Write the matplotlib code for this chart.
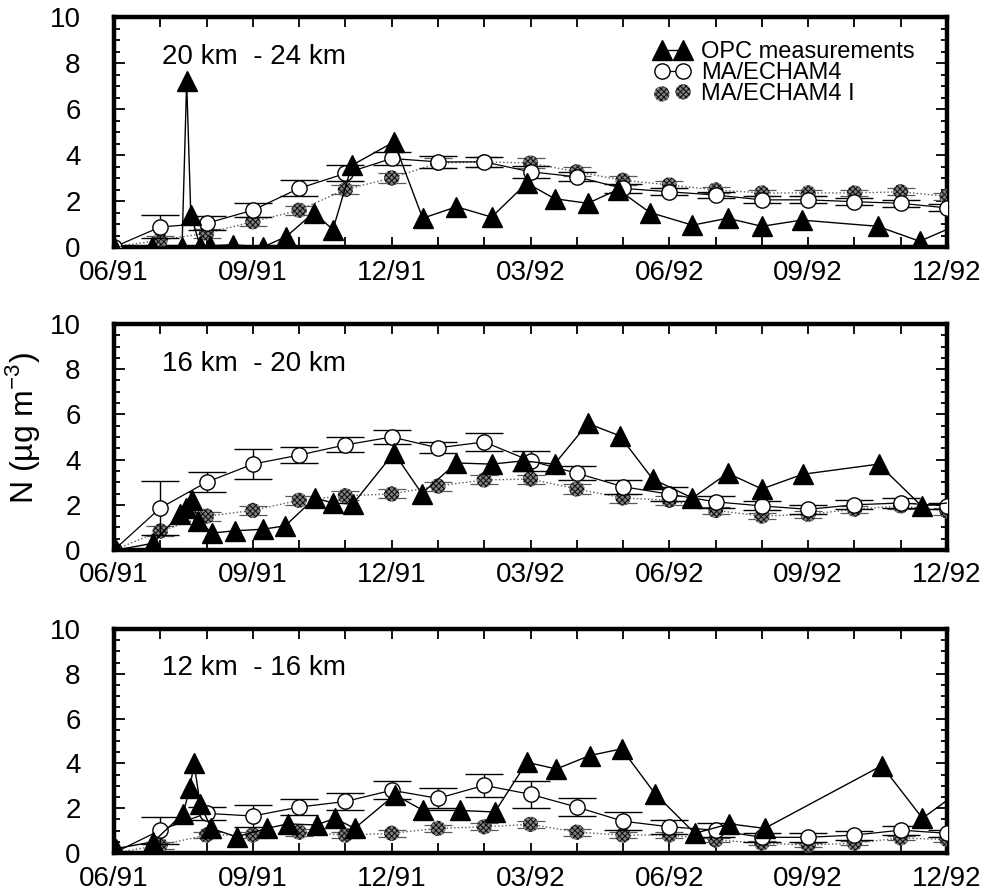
import numpy as np
import matplotlib
matplotlib.use('Agg')
import matplotlib.pyplot as plt
from matplotlib.ticker import MultipleLocator

plt.rcParams['font.family'] = ['Liberation Sans', 'DejaVu Sans']
plt.rcParams['hatch.linewidth'] = 0.7

# months since 06/91 (model output is monthly)
months = np.arange(19)
tick_labels = ['06/91', '09/91', '12/91', '03/92', '06/92', '09/92', '12/92']

# 20 km - 24 km
opc_top_x = [0.0, 0.82, 1.47, 1.57, 1.66, 1.86, 2.07, 2.57, 3.22, 3.72, 4.32, 4.73, 5.14, 6.05,
             6.67, 7.4, 8.16, 8.92, 9.52, 10.24, 10.89, 11.58, 12.5, 13.26, 14.0, 14.86, 16.5,
             17.41, 18.5]
opc_top_y = [0.0, 0.0, 0.0, 7.2, 1.4, 0.05, 0.05, 0.1, 0.0, 0.45, 1.5, 0.75, 3.55, 4.57,
             1.25, 1.75, 1.3, 2.78, 2.1, 1.9, 2.5, 1.5, 0.95, 1.25, 0.9, 1.17, 0.9,
             0.25, 1.2]
ma_top = [0.0, 0.87, 1.03, 1.6, 2.55, 3.2, 3.85, 3.7, 3.7, 3.27, 3.05, 2.55, 2.4, 2.26, 2.05,
          2.05, 1.97, 1.9, 1.7]
ma_top_err = [0.0, 0.5, 0.3, 0.3, 0.35, 0.35, 0.3, 0.25, 0.2, 0.25, 0.2, 0.2, 0.15, 0.15, 0.15,
              0.15, 0.15, 0.15, 0.15]
mai_top = [0.0, 0.3, 0.6, 1.1, 1.6, 2.5, 3.0, 3.65, 3.7, 3.65, 3.27, 2.9, 2.7, 2.48, 2.35,
           2.35, 2.35, 2.4, 2.2]
mai_top_err = [0.0, 0.2, 0.2, 0.2, 0.2, 0.2, 0.2, 0.2, 0.2, 0.2, 0.2, 0.2, 0.15, 0.15, 0.15,
               0.15, 0.15, 0.15, 0.15]

# 16 km - 20 km
opc_mid_x = [0.05, 0.85, 1.42, 1.55, 1.68, 1.82, 2.12, 2.61, 3.22, 3.7, 4.34, 4.73, 5.16, 6.05,
             6.65, 7.4, 8.16, 8.83, 9.52, 10.24, 10.93, 11.64, 12.5, 13.26, 14.0, 14.88, 16.52,
             17.45, 18.5]
opc_mid_y = [0.0, 0.3, 1.6, 1.85, 2.2, 1.3, 0.75, 0.85, 0.92, 1.07, 2.3, 2.08, 2.03, 4.3,
             2.5, 3.85, 3.8, 3.94, 3.8, 5.6, 5.05, 3.14, 2.3, 3.4, 2.7, 3.35, 3.8,
             1.95, 2.2]
ma_mid = [0.0, 1.86, 3.0, 3.8, 4.2, 4.65, 5.0, 4.52, 4.78, 3.94, 3.4, 2.8, 2.47, 2.13, 1.95,
          1.8, 2.0, 2.08, 1.95]
ma_mid_err = [0.0, 1.2, 0.45, 0.65, 0.37, 0.33, 0.33, 0.25, 0.4, 0.45, 0.3, 0.3, 0.3, 0.25, 0.2,
              0.2, 0.2, 0.2, 0.15]
mai_mid = [0.0, 0.84, 1.5, 1.75, 2.2, 2.4, 2.48, 2.83, 3.1, 3.14, 2.7, 2.3, 2.2, 1.75, 1.5,
           1.58, 1.8, 1.95, 1.72]
mai_mid_err = [0.0, 0.2, 0.2, 0.2, 0.2, 0.2, 0.2, 0.2, 0.2, 0.2, 0.2, 0.2, 0.2, 0.15, 0.15,
               0.15, 0.15, 0.15, 0.15]

# 12 km - 16 km
opc_bot_x = [0.05, 0.85, 1.49, 1.64, 1.73, 1.86, 2.1, 2.65, 3.3, 3.76, 4.38, 4.77, 5.2, 6.07,
             6.68, 7.47, 8.23, 8.92, 9.56, 10.28, 10.97, 11.69, 12.55, 13.3, 14.06, 16.59,
             17.47, 18.5]
opc_bot_y = [0.2, 0.5, 1.75, 2.9, 4.0, 2.2, 1.1, 0.72, 1.1, 1.3, 1.25, 1.55, 1.1, 2.6,
             1.9, 1.9, 1.83, 4.05, 3.75, 4.35, 4.65, 2.65, 0.88, 1.3, 1.1, 3.9,
             1.55, 3.1]
ma_bot = [0.0, 1.02, 1.77, 1.65, 2.05, 2.3, 2.8, 2.44, 3.02, 2.62, 2.05, 1.42, 1.17, 1.02, 0.7,
          0.7, 0.8, 1.02, 0.88]
ma_bot_err = [0.0, 0.6, 0.3, 0.5, 0.35, 0.4, 0.4, 0.45, 0.5, 0.6, 0.4, 0.4, 0.3, 0.3, 0.2,
              0.2, 0.2, 0.2, 0.15]
mai_bot = [0.0, 0.35, 0.8, 0.8, 0.93, 0.8, 0.88, 1.1, 1.17, 1.28, 0.93, 0.8, 0.8, 0.58, 0.44,
           0.35, 0.44, 0.67, 0.6]
mai_bot_err = [0.0, 0.15, 0.15, 0.15, 0.15, 0.15, 0.15, 0.15, 0.15, 0.15, 0.15, 0.15, 0.15, 0.1,
               0.1, 0.1, 0.1, 0.1, 0.1]

panels = [
    ('20 km  - 24 km', opc_top_x, opc_top_y, ma_top, ma_top_err, mai_top, mai_top_err),
    ('16 km  - 20 km', opc_mid_x, opc_mid_y, ma_mid, ma_mid_err, mai_mid, mai_mid_err),
    ('12 km  - 16 km', opc_bot_x, opc_bot_y, ma_bot, ma_bot_err, mai_bot, mai_bot_err),
]

# axes boxes in pixels (top, bottom) of the 989x894 figure
boxes = [(17, 247), (324, 550), (629, 853)]
W, H = 989, 894
x0, x1 = 114, 947


def drawPanel(ax, label, ox, oy, ma, ma_err, mai, mai_err, legend=False):
    ax.errorbar(months, mai, yerr=mai_err, fmt=':', color='0.35', lw=1.0,
                elinewidth=0.8, capsize=10, capthick=0.9, zorder=2)
    hat = ax.scatter(months, mai, s=120, marker='o', facecolor='0.5', edgecolor='0.05',
                     hatch='xxxxxx', linewidths=0, zorder=3)
    ma_eb = ax.errorbar(months, ma, yerr=ma_err, fmt='-o', color='black', lw=0.9,
                        ms=11, mfc='white', mec='black', mew=1.0,
                        elinewidth=1.0, capsize=14, capthick=1.0, zorder=4)
    opc_line, = ax.plot(ox, oy, '-^', color='black', lw=1.0, ms=15, zorder=5)

    ax.set_xlim(0, 18)
    ax.set_ylim(0, 10)
    ax.xaxis.set_minor_locator(MultipleLocator(1))
    ax.set_xticks(np.arange(0, 19, 3))
    ax.set_xticklabels(tick_labels)
    ax.yaxis.set_major_locator(MultipleLocator(2))
    ax.yaxis.set_minor_locator(MultipleLocator(0.5))

    ax.tick_params(axis='x', which='both', direction='in', top=True, length=7, width=1.3,
                   labelsize=20, pad=9)
    ax.tick_params(axis='y', which='major', direction='in', right=True, length=8, width=1.3,
                   labelsize=20, pad=24)
    ax.tick_params(axis='y', which='minor', direction='in', right=True, length=4, width=1.3)
    for sp in ax.spines.values():
        sp.set_linewidth(3.2)

    ax.text(1.04, 8.25, label, fontsize=20, va='center', ha='left')

    if legend:
        # use the plain data line of the model run so no error caps show in the key
        ax.legend([opc_line, ma_eb[0], hat], ['OPC measurements', 'MA/ECHAM4', 'MA/ECHAM4 I'],
                  loc='upper left', bbox_to_anchor=(0.635, 0.945), frameon=False,
                  fontsize=17, numpoints=2, scatterpoints=2, handlelength=1.5,
                  handletextpad=0.45, labelspacing=-0.05, borderpad=0)


fig = plt.figure(figsize=(W / 100, H / 100), dpi=100)
for i, (label, ox, oy, ma, ma_err, mai, mai_err) in enumerate(panels):
    top, bottom = boxes[i]
    ax = fig.add_axes([x0 / W, 1 - bottom / H, (x1 - x0) / W, (bottom - top) / H])
    drawPanel(ax, label, ox, oy, ma, ma_err, mai, mai_err, legend=(i == 0))

fig.text(22 / W, 1 - 428 / H, r'N (µg m$^{\mathregular{-3}}$)', rotation=90,
         fontsize=23, ha='center', va='center')

plt.savefig('out.png', dpi=100)
